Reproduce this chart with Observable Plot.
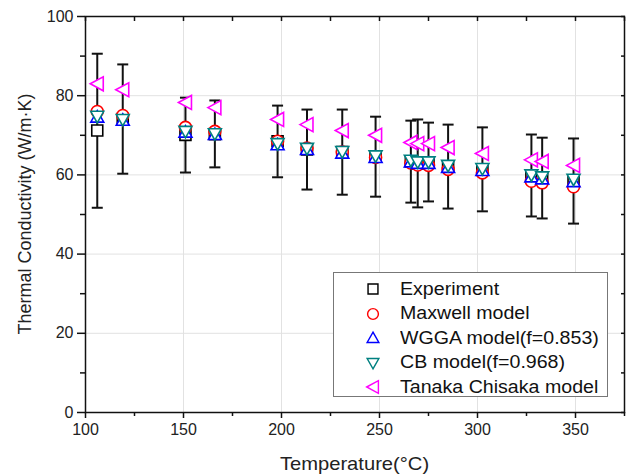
<!DOCTYPE html>
<html>
<head>
<meta charset="utf-8">
<script src="https://cdn.jsdelivr.net/npm/d3@7"></script>
<script src="https://cdn.jsdelivr.net/npm/@observablehq/plot@0.6"></script>
<style>
  html, body { margin: 0; padding: 0; background: #fff; }
  #chart { position: relative; width: 629px; height: 476px; font-family: "Liberation Sans", Arial, sans-serif; }
  #legend { position: absolute; background: #fff; border: 1px solid #777; box-sizing: border-box; }
  #legend .row { position: absolute; left: 0; height: 24px; display: flex; align-items: center; font-size: 17.5px; color: #111; white-space: nowrap; }
  #legend .row span { display: inline-block; transform: scaleX(1.12); transform-origin: 0 50%; }
</style>
</head>
<body>
<div id="chart"></div>
<script>
// ---- data ----
const temperature = [106, 119, 151, 166, 198, 213, 231, 248, 266, 269.5, 275, 285, 302.5, 327.5, 333, 349];
const experiment  = [71.2, 74.1, 70.1, 70.3, 68.5, 66.4, 65.8, 64.6, 63.4, 62.9, 63.2, 62.1, 61.4, 59.8, 59.2, 58.4];
const errorTop    = [90.6, 87.9, 79.5, 78.8, 77.5, 76.5, 76.5, 74.7, 73.7, 74.0, 73.2, 72.7, 72.0, 70.2, 69.4, 69.2];
const errorBottom = [51.7, 60.3, 60.6, 61.9, 59.4, 56.3, 55.0, 54.5, 53.0, 51.8, 53.3, 51.5, 50.8, 49.5, 49.0, 47.7];
const maxwell     = [76.0, 75.0, 72.0, 71.0, 68.5, 66.8, 65.8, 64.4, 63.0, 62.5, 62.4, 61.4, 60.5, 58.4, 58.0, 57.0];
const wgga        = [74.6, 73.8, 70.8, 70.2, 67.6, 66.4, 65.5, 64.4, 63.3, 62.9, 62.9, 61.9, 61.1, 59.5, 59.0, 58.3];
const cb          = [74.8, 74.0, 71.0, 70.4, 67.9, 66.7, 65.9, 64.8, 63.7, 63.3, 63.3, 62.4, 61.6, 60.0, 59.5, 58.9];
const tanaka      = [83.0, 81.5, 78.3, 77.0, 74.0, 72.7, 71.2, 70.0, 68.2, 67.9, 67.9, 66.9, 65.4, 63.8, 63.4, 62.4];

const seriesNames  = ["Experiment", "Maxwell model", "WGGA model(f=0.853)", "CB model(f=0.968)", "Tanaka Chisaka model"];
const seriesColors = ["#000000", "#ff0000", "#0000ff", "#008080", "#ff00ff"];

const xTicks = [100, 150, 200, 250, 300, 350];
const xMinorTicks = [125, 175, 225, 275, 325, 375];
const yTicks = [0, 20, 40, 60, 80, 100];
const yMinorTicks = [10, 30, 50, 70, 90];
const xLabel = "Temperature(\u00B0C)";
const yLabel = "Thermal Conductivity (W/m\u00B7K)";

// ---- symbols ----
const symSquare = {draw(c) { const s = 5.5; c.moveTo(-s, -s); c.lineTo(s, -s); c.lineTo(s, s); c.lineTo(-s, s); c.closePath(); }};
const symCircle = {draw(c) { const r = 6; c.moveTo(r, 0); c.arc(0, 0, r, 0, 2 * Math.PI); c.closePath(); }};
const symUp     = {draw(c) { c.moveTo(0, -6.5); c.lineTo(6.5, 5); c.lineTo(-6.5, 5); c.closePath(); }};
const symDown   = {draw(c) { c.moveTo(0, 6.5); c.lineTo(6.5, -5); c.lineTo(-6.5, -5); c.closePath(); }};
const symLeft   = {draw(c) { c.moveTo(-7, 0); c.lineTo(6, -7); c.lineTo(6, 7); c.closePath(); }};
const symCap    = {draw(c) { c.moveTo(-5.5, 0); c.lineTo(5.5, 0); }};
const seriesSymbols = [symSquare, symCircle, symUp, symDown, symLeft];
const seriesValues = [experiment, maxwell, wgga, cb, tanaka];

const rows = temperature.map((t, i) => ({t, top: errorTop[i], bottom: errorBottom[i]}));
const seriesData = seriesValues.map(vals => temperature.map((t, i) => ({t, v: vals[i]})));

const marks = [
  Plot.gridX(xTicks.slice(1), {stroke: "#e2e2e2", strokeOpacity: 1, strokeWidth: 1}),
  Plot.gridY(yTicks.slice(1, -1), {stroke: "#e2e2e2", strokeOpacity: 1, strokeWidth: 1}),
  // error bars
  Plot.ruleX(rows, {x: "t", y1: "bottom", y2: "top", stroke: "#111", strokeWidth: 2}),
  Plot.dot(rows, {x: "t", y: "top", symbol: symCap, r: 5, stroke: "#111", fill: "none", strokeWidth: 2}),
  Plot.dot(rows, {x: "t", y: "bottom", symbol: symCap, r: 5, stroke: "#111", fill: "none", strokeWidth: 2}),
  // series markers
  ...seriesData.map((d, k) => Plot.dot(d, {x: "t", y: "v", symbol: seriesSymbols[k], r: 6, stroke: seriesColors[k], fill: "#fff", strokeWidth: 1.6})),
  // axes
  Plot.axisY(yTicks, {anchor: "left", tickSize: 8, tickPadding: 4, fontSize: 16, label: null, stroke: "#111", strokeWidth: 1.5, fill: "#222"}),
  Plot.axisY(yMinorTicks, {anchor: "left", tickSize: 5, text: null, label: null, stroke: "#111", strokeWidth: 1.5}),
  Plot.axisY(yTicks.concat(yMinorTicks), {anchor: "right", tickSize: -4, text: null, label: null, stroke: "#111", strokeWidth: 1.5}),
  Plot.axisX(xTicks, {anchor: "bottom", tickSize: 6, tickPadding: 5, fontSize: 16, label: null, stroke: "#111", strokeWidth: 1.5, fill: "#222"}),
  Plot.axisX(xMinorTicks, {anchor: "bottom", tickSize: 4, text: null, label: null, stroke: "#111", strokeWidth: 1.5}),
  Plot.axisX(xTicks.concat(xMinorTicks), {anchor: "top", tickSize: -4, text: null, label: null, stroke: "#111", strokeWidth: 1.5}),
  Plot.frame({stroke: "#111", strokeWidth: 1.5})
];

const plot = Plot.plot({
  width: 629,
  height: 476,
  marginLeft: 85,
  marginRight: 5,
  marginTop: 16,
  marginBottom: 64,
  style: {fontFamily: "'Liberation Sans', Arial, sans-serif", background: "#fff", overflow: "visible"},
  x: {domain: [100, 375], label: null},
  y: {domain: [0, 100], label: null},
  marks
});

const svg = d3.select(plot);
// axis titles as real text, positioned from the scales
const xs = plot.scale("x"), ys = plot.scale("y");
const xMid = (xs.apply(100) + xs.apply(375)) / 2;
svg.append("text")
  .attr("transform", `translate(${xMid},470) scale(1.12,1)`)
  .attr("text-anchor", "middle")
  .attr("font-size", 18)
  .attr("fill", "#222")
  .text(xLabel);
svg.append("text")
  .attr("transform", `translate(31,${(ys.apply(0) + ys.apply(100)) / 2}) rotate(-90)`)
  .attr("text-anchor", "middle")
  .attr("font-size", 18)
  .attr("fill", "#222")
  .text(yLabel);

const chart = document.getElementById("chart");
chart.appendChild(plot);

// legend
const legend = document.createElement("div");
legend.id = "legend";
Object.assign(legend.style, {left: "333px", top: "272px", width: "275px", height: "125px"});
seriesNames.forEach((name, k) => {
  const row = document.createElement("div");
  row.className = "row";
  row.style.top = (4 + k * 24.5) + "px";
  const s = d3.create("svg").attr("width", 66).attr("height", 24).style("flex", "none");
  const path = d3.path();
  seriesSymbols[k].draw(path, 36);
  s.append("path").attr("d", path.toString()).attr("transform", "translate(39,12) scale(0.9)")
    .attr("fill", "none").attr("stroke", seriesColors[k]).attr("stroke-width", 1.6);
  row.appendChild(s.node());
  const span = document.createElement("span");
  span.textContent = name;
  row.appendChild(span);
  legend.appendChild(row);
});
chart.appendChild(legend);
</script>
</body>
</html>
